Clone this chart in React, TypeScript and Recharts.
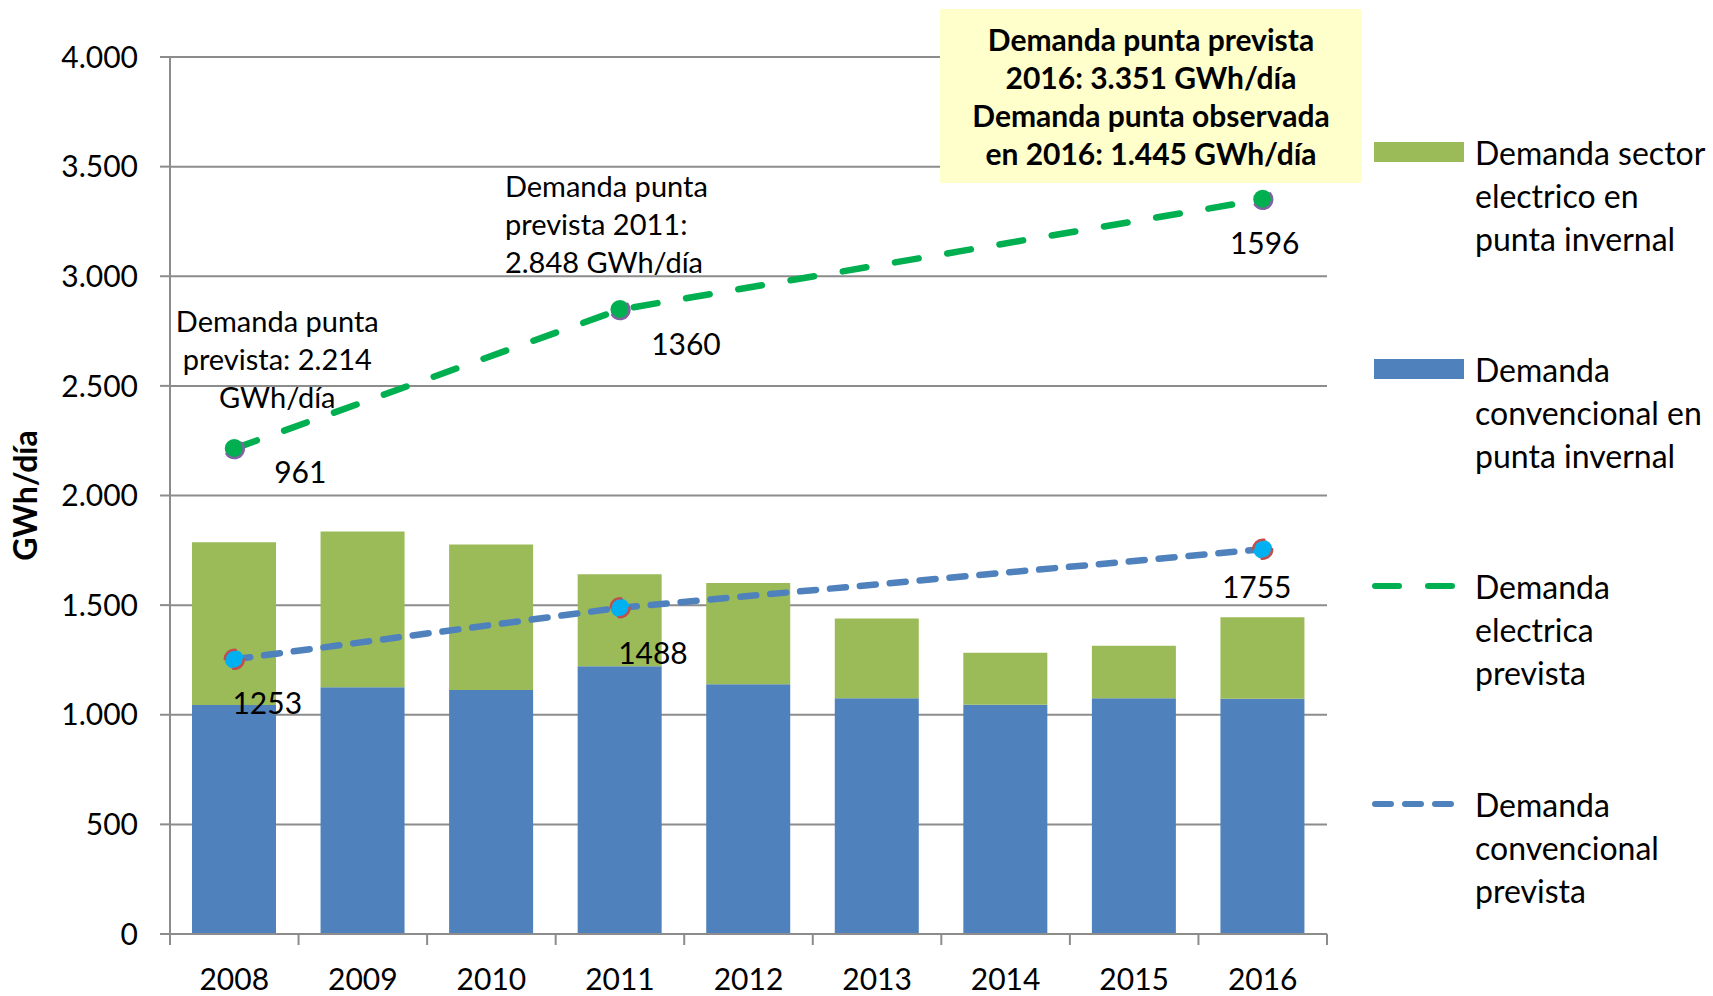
import React from "react";
import { ComposedChart, Bar, Line, XAxis, YAxis, CartesianGrid, Label } from "recharts";

const years = ["2008", "2009", "2010", "2011", "2012", "2013", "2014", "2015", "2016"];
const demandaConvencional = [1045, 1125, 1113, 1221, 1139, 1075, 1046, 1075, 1073];
const demandaSectorElectrico = [742, 711, 663, 420, 462, 364, 237, 240, 372];
const electricaPrevista = [2214, null, null, 2848, null, null, null, null, 3351];
const convencionalPrevista = [1253, null, null, 1488, null, null, null, null, 1755];
const electricaEtiqueta = [961, null, null, 1360, null, null, null, null, 1596];
const convencionalEtiqueta = [1253, null, null, 1488, null, null, null, null, 1755];
const yTicks = [0, 500, 1000, 1500, 2000, 2500, 3000, 3500, 4000];

const annotation2008 = ["Demanda punta", "prevista: 2.214", "GWh/día"];
const annotation2011 = ["Demanda punta", "prevista 2011:", "2.848 GWh/día"];
const boxLines = [
  "Demanda punta prevista",
  "2016: 3.351 GWh/día",
  "Demanda punta observada",
  "en 2016: 1.445 GWh/día",
];

const data = years.map((year, i) => ({
  year,
  conv: demandaConvencional[i],
  sector: demandaSectorElectrico[i],
  elecPrev: electricaPrevista[i],
  convPrev: convencionalPrevista[i],
}));

const W = 1713;
const H = 996;
const PLOT_LEFT = 170;
const PLOT_RIGHT = 1327;
const PLOT_TOP = 57;
const PLOT_BOTTOM = 934;
const BAND = (PLOT_RIGHT - PLOT_LEFT) / years.length;

const GRID = "#8c8c8c";
const BLUE = "#4f81bd";
const OLIVE = "#9bbb59";
const GREEN = "#00b050";
const FONT = "Lato, 'Open Sans', sans-serif";

const fmt = (v: number) => v.toLocaleString("de-DE");

// label offsets relative to the point (text center)
const elecOffsets: Record<number, [number, number]> = { 0: [66, 22], 3: [66, 33], 8: [2, 43] };
const convOffsets: Record<number, [number, number]> = { 0: [33, 43], 3: [33, 44], 8: [-6, 37] };

function XTick(props: any) {
  const { x, y, payload, index } = props;
  return (
    <g>
      <line x1={x - BAND / 2} x2={x - BAND / 2} y1={y} y2={y + 11} stroke={GRID} strokeWidth={2} />
      {index === years.length - 1 && (
        <line x1={x + BAND / 2} x2={x + BAND / 2} y1={y} y2={y + 11} stroke={GRID} strokeWidth={2} />
      )}
      <text x={x} y={y + 44} textAnchor="middle" dominantBaseline="central" fontSize={30} fill="#000">
        {payload.value}
      </text>
    </g>
  );
}

function ElecLabel(props: any) {
  const { x, y, index } = props;
  const v = electricaEtiqueta[index];
  if (v == null || x == null || y == null) return null;
  const [dx, dy] = elecOffsets[index] || [0, 30];
  return (
    <g>
      <text x={x + dx} y={y + dy} textAnchor="middle" dominantBaseline="central" fontSize={30} fill="#000">
        {v}
      </text>
      {index === 0 &&
        annotation2008.map((t, i) => (
          <text key={i} x={x + 43} y={y - 128 + i * 38} textAnchor="middle" dominantBaseline="central" fontSize={29} fill="#000">
            {t}
          </text>
        ))}
      {index === 3 &&
        annotation2011.map((t, i) => (
          <text key={i} x={x - 115} y={y - 124 + i * 38} textAnchor="start" dominantBaseline="central" fontSize={29} fill="#000">
            {t}
          </text>
        ))}
    </g>
  );
}

function ConvLabel(props: any) {
  const { x, y, index } = props;
  const v = convencionalEtiqueta[index];
  if (v == null || x == null || y == null) return null;
  const [dx, dy] = convOffsets[index] || [0, 30];
  return (
    <text x={x + dx} y={y + dy} textAnchor="middle" dominantBaseline="central" fontSize={30} fill="#000">
      {v}
    </text>
  );
}

const legendItems = [
  { kind: "rect", color: OLIVE, lines: ["Demanda sector", "electrico en", "punta invernal"], top: 152 },
  { kind: "rect", color: BLUE, lines: ["Demanda", "convencional en", "punta invernal"], top: 369 },
  { kind: "long", color: GREEN, lines: ["Demanda", "electrica", "prevista"], top: 586 },
  { kind: "short", color: BLUE, lines: ["Demanda", "convencional", "prevista"], top: 804 },
];

function Swatch({ kind, color }: { kind: string; color: string }) {
  if (kind === "rect") {
    return (
      <svg width={92} height={22} style={{ display: "block" }}>
        <rect x={2} y={1} width={90} height={20} fill={color} />
      </svg>
    );
  }
  return (
    <svg width={92} height={22} style={{ display: "block" }}>
      <line
        x1={3}
        x2={86}
        y1={11}
        y2={11}
        stroke={color}
        strokeWidth={6}
        strokeLinecap="round"
        strokeDasharray={kind === "long" ? "24 29" : "16 14"}
      />
    </svg>
  );
}

export default function App() {
  return (
    <div style={{ position: "absolute", left: 0, top: 0, width: W, height: H, background: "#fff", fontFamily: FONT }}>
      <ComposedChart
        width={W}
        height={H}
        data={data}
        margin={{ top: PLOT_TOP, right: W - PLOT_RIGHT, bottom: H - PLOT_BOTTOM - 50, left: 10 }}
      >
        <CartesianGrid vertical={false} stroke={GRID} strokeWidth={2} />
        <XAxis
          dataKey="year"
          height={50}
          tickLine={false}
          tickSize={0}
          tickMargin={0}
          axisLine={{ stroke: GRID, strokeWidth: 2 }}
          tick={<XTick />}
          interval={0}
        />
        <YAxis
          width={PLOT_LEFT - 10}
          domain={[0, 4000]}
          ticks={yTicks}
          tickFormatter={fmt}
          tickSize={10}
          tickMargin={22}
          tick={{ fontSize: 30, fill: "#000" }}
          tickLine={{ stroke: GRID, strokeWidth: 2 }}
          axisLine={{ stroke: GRID, strokeWidth: 2 }}
        >
          <Label
            content={() => (
              <text
                x={24}
                y={(PLOT_TOP + PLOT_BOTTOM) / 2}
                transform={`rotate(-90 24 ${(PLOT_TOP + PLOT_BOTTOM) / 2})`}
                textAnchor="middle"
                dominantBaseline="central"
                fontSize={32}
                fontWeight="bold"
                fill="#000"
              >
                GWh/día
              </text>
            )}
          />
        </YAxis>
        <Bar dataKey="conv" stackId="a" fill={BLUE} barSize={84} isAnimationActive={false} />
        <Bar dataKey="sector" stackId="a" fill={OLIVE} barSize={84} isAnimationActive={false} />
        <Line
          dataKey="convPrev"
          type="linear"
          connectNulls
          stroke={BLUE}
          strokeWidth={6.5}
          strokeLinecap="round"
          strokeDasharray="16 14"
          dot={{ r: 9.5, fill: "#00b0f0", stroke: "#c0504d", strokeWidth: 2.5 }}
          activeDot={false}
          label={<ConvLabel />}
          isAnimationActive={false}
        />
        <Line
          dataKey="elecPrev"
          type="linear"
          connectNulls
          stroke={GREEN}
          strokeWidth={6.5}
          strokeLinecap="round"
          strokeDasharray="24 29"
          dot={{ r: 9.5, fill: GREEN, stroke: "#8064a2", strokeWidth: 2.5 }}
          activeDot={false}
          label={<ElecLabel />}
          isAnimationActive={false}
        />
      </ComposedChart>

      <div
        style={{
          position: "absolute",
          left: 940,
          top: 9,
          width: 422,
          height: 174,
          background: "#ffffcc",
          display: "flex",
          flexDirection: "column",
          justifyContent: "center",
          alignItems: "center",
          fontWeight: "bold",
          fontSize: 30,
          lineHeight: "38px",
          color: "#000",
          whiteSpace: "nowrap",
        }}
      >
        {boxLines.map((t, i) => (
          <div key={i}>{t}</div>
        ))}
      </div>

      {legendItems.map((item, i) => (
        <div key={i} style={{ position: "absolute", left: 1372, top: item.top - 21 }}>
          <div style={{ position: "absolute", left: 0, top: 10 }}>
            <Swatch kind={item.kind} color={item.color} />
          </div>
          <div style={{ position: "absolute", left: 103, top: 0, fontSize: 32, lineHeight: "43px", whiteSpace: "nowrap", color: "#000" }}>
            {item.lines.map((t, j) => (
              <div key={j}>{t}</div>
            ))}
          </div>
        </div>
      ))}
    </div>
  );
}
